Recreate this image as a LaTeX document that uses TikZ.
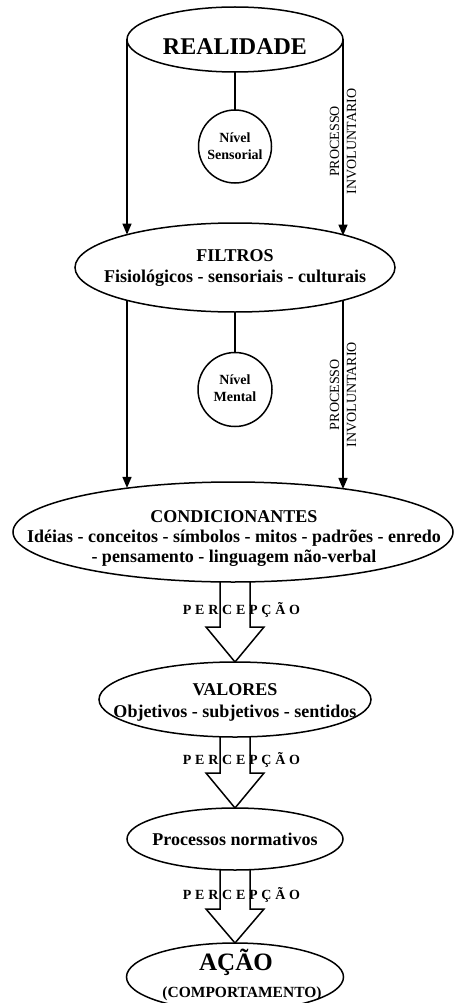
\documentclass[tikz,border=0pt]{standalone}
\usepackage{fontspec}
\setmainfont{Liberation Serif}
\usetikzlibrary{arrows.meta,calc,shapes.geometric,backgrounds}
% wide-spaced capitals for the arrow captions
\newcommand\spacedcaps[1]{{\spaceskip=3.75pt\relax #1}}
\begin{document}
\begin{tikzpicture}[x=1pt,y=-1pt,
  outline/.style={draw,line width=1.5pt,fill=white,inner sep=0pt,outer sep=0pt},
  oval/.style={outline,ellipse},
  disc/.style={outline,circle},
  txt/.style={inner sep=0pt,align=center},
  bigtxt/.style={txt,font=\fontsize{18}{21}\selectfont\bfseries},
  smalltxt/.style={txt,font=\fontsize{14}{17}\selectfont\bfseries},
  side/.style={txt,rotate=90,font=\fontsize{14}{17}\selectfont},
  perc/.style={inner sep=0pt,anchor=base,font=\fontsize{14}{16}\selectfont\bfseries},
  link/.style={line width=1.5pt},
  flow/.style={link,-{Triangle[length=11pt,width=9pt]}},
  hollow/.style={line width=1.5pt,line join=miter}
]
\useasboundingbox (0,0) rectangle (454,1003);

% shapes
\node[oval,minimum width=216pt,minimum height=65pt] (real) at (235,39.5) {};
\node[disc,minimum size=73pt] (sens) at (235,146.5) {};
\node[oval,minimum width=320pt,minimum height=89pt] (filt) at (235,267.5) {};
\node[disc,minimum size=74pt] (ment) at (235,389.5) {};
\node[oval,minimum width=440pt,minimum height=100pt] (cond) at (233,532) {};
\node[oval,minimum width=272pt,minimum height=75pt] (valo) at (235,699.5) {};
\node[oval,minimum width=216pt,minimum height=62pt] (proc) at (235,839) {};
\node[oval,minimum width=217pt,minimum height=68pt] (acao) at (235,977) {};

% texts
\node[txt,font=\fontsize{24}{28}\selectfont\bfseries] (realT) at (235,46.5) {REALIDADE};
\node[smalltxt] (sensT) at (235,146) {Nível\\Sensorial};
\node[bigtxt] (filtT) at (235,268) {FILTROS\\Fisiológicos - sensoriais - culturais};
\node[smalltxt] (mentT) at (235,388) {Nível\\Mental};
\node[bigtxt,font=\fontsize{18}{20}\selectfont\bfseries] (condT) at (234,539)
  {CONDICIONANTES\\Idéias - conceitos - símbolos - mitos - padrões - enredo\\- pensamento - linguagem não-verbal};
\node[bigtxt,font=\fontsize{18}{22}\selectfont\bfseries] (valoT) at (235,702) {VALORES\\Objetivos - subjetivos - sentidos};
\node[bigtxt] (procT) at (235,839) {Processos normativos};
\node[inner sep=0pt,anchor=base,font=\fontsize{25}{28}\selectfont\bfseries] (acaoT) at (236,970) {AÇÃO};
\node[inner sep=0pt,anchor=base,font=\fontsize{15.5}{18}\selectfont\bfseries] (compT) at (242,997) {(COMPORTAMENTO)};

\node[perc] (perc1) at (241.5,614) {\spacedcaps{P E R C E P Ç Ã O}};
\node[perc] (perc2) at (241.5,764) {\spacedcaps{P E R C E P Ç Ã O}};
\node[perc] (perc3) at (241.5,899) {\spacedcaps{P E R C E P Ç Ã O}};

% connectors, behind the filled shapes
\begin{scope}[on background layer]
  \fill[white] (0,0) rectangle (454,1003);
  \draw[flow] (real.west) -- (real.west |- filt.163.1);
  \draw[flow] (real.east) -- node[side,pos=0.52] (inv1) {PROCESSO\\INVOLUNTARIO} (real.east |- filt.16.9);
  \draw[link] (real.south) -- (sens.north);
  \draw[flow] (filt.196.9 -| real.west) -- (real.west |- cond.157.55);
  \draw[flow] (filt.343.1 -| real.east) -- node[side,pos=0.5] (inv2) {PROCESSO\\INVOLUNTARIO} (real.east |- cond.21.49);
  \draw[link] (filt.south) -- (ment.north);
  % hollow block arrows
  \draw[hollow] ($(valo.north |- cond.center)+(-15,0)$) -- ($(valo.north)+(-15,-35)$) -- ++(-14,0)
    -- (valo.north) -- ++(29,-35) -- ++(-14,0) -- ($(valo.north |- cond.center)+(15,0)$);
  \draw[hollow] ($(proc.north |- valo.center)+(-15,0)$) -- ($(proc.north)+(-15,-35)$) -- ++(-14,0)
    -- (proc.north) -- ++(29,-35) -- ++(-14,0) -- ($(proc.north |- valo.center)+(15,0)$);
  \draw[hollow] ($(acao.north |- proc.center)+(-15,0)$) -- ($(acao.north)+(-15,-34)$) -- ++(-14,0)
    -- (acao.north) -- ++(29,-34) -- ++(-14,0) -- ($(acao.north |- proc.center)+(15,0)$);
\end{scope}
\end{tikzpicture}
\end{document}
